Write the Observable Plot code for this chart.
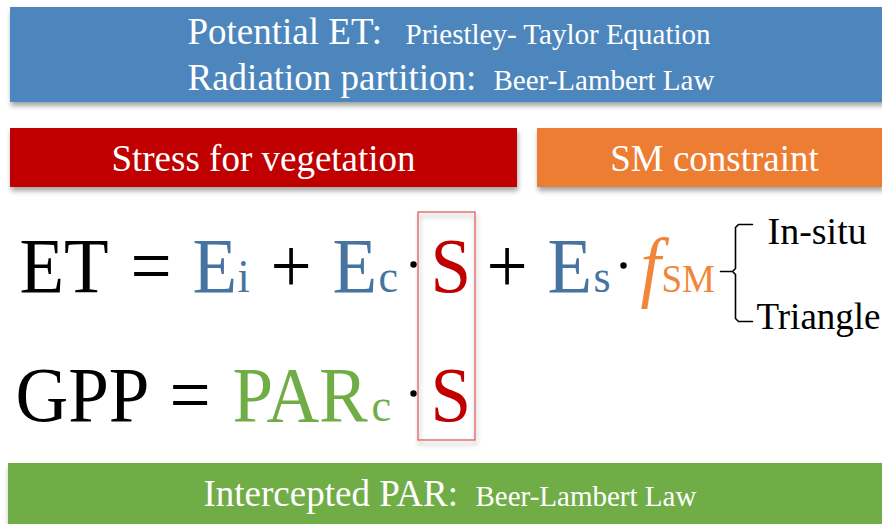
<!DOCTYPE html>
<html>
<head>
<meta charset="utf-8">
<script src="https://cdn.jsdelivr.net/npm/d3@7"></script>
<script src="https://cdn.jsdelivr.net/npm/@observablehq/plot@0.6"></script>
<style>
  html, body { margin: 0; padding: 0; background: #ffffff; }
  #chart { width: 882px; height: 524px; overflow: hidden; }
</style>
</head>
<body>
<div id="chart"></div>
<script>
// ---------- content (labels) ----------
const headerLabels  = ["Potential ET:", "Radiation partition:"];
const headerMethods = ["Priestley- Taylor Equation", "Beer-Lambert Law"];
const constraintLabels = ["Stress for vegetation", "SM constraint"];
const etTerms  = ["ET", "=", "E", "i", "+", "E", "c", "S", "+", "E", "s", "f", "SM"];
const etRoles  = ["black", "black", "blue", "blue", "black", "blue", "blue", "red", "black", "blue", "blue", "orange", "orange"];
const etKinds  = ["main", "main", "main", "sub", "main", "main", "sub", "main", "main", "main", "sub", "italic", "subSM"];
const smSources = ["In-situ", "Triangle"];
const gppTerms = ["GPP", "=", "PAR", "c", "S"];
const gppRoles = ["black", "black", "green", "green", "red"];
const gppKinds = ["main", "main", "main", "sub", "main"];
const footerLabel  = "Intercepted PAR:";
const footerMethod = "Beer-Lambert Law";

// ---------- layout & style (diagram geometry) ----------
const W = 882, H = 524;
const palette = {black: "#000000", blue: "#46739F", red: "#C00000", orange: "#F0863A", green: "#70AD47"};
const sizes = {main: 73, sub: 44, italic: 73, subSM: 37};
const stretchY = 1.07;
const serif = "Liberation Serif";

const boxes = [
  {x1: 10,  x2: 884, y1: 7,   y2: 102, fill: "#4E86BC"},
  {x1: 10,  x2: 517, y1: 128, y2: 187, fill: "#C00000"},
  {x1: 537, x2: 884, y1: 128, y2: 187, fill: "#ED7D31"},
  {x1: 8,   x2: 884, y1: 463, y2: 530, fill: "#70AD47"}
];
const sBox = [{x1: 418, x2: 475, y1: 212, y2: 440}];

const boxTextsStart = [
  {text: headerLabels[0],  x: 187, y: 43,  size: 37},
  {text: headerMethods[0], x: 405, y: 43,  size: 29},
  {text: headerLabels[1],  x: 187, y: 89,  size: 37},
  {text: headerMethods[1], x: 493, y: 89,  size: 29},
  {text: footerLabel,  x: 203, y: 505, size: 37},
  {text: footerMethod, x: 475, y: 505, size: 29}
];
const boxTextsMiddle = [
  {text: constraintLabels[0], x: 263, y: 170, size: 37},
  {text: constraintLabels[1], x: 714, y: 170, size: 37}
];

const etX  = [19, 130, 192, 237, 270, 332, 378, 430, 486, 547, 593, 640, 661];
const gppX = [15, 169, 232, 371, 430];
const etBase = 291, gppBase = 420;

const eqTokens = [
  ...etTerms.map((t, i) => ({text: t, x: etX[i], y: etBase, color: palette[etRoles[i]], size: sizes[etKinds[i]], italic: etKinds[i] === "italic"})),
  ...gppTerms.map((t, i) => ({text: t, x: gppX[i], y: gppBase, color: palette[gppRoles[i]], size: sizes[gppKinds[i]], italic: false}))
];
const sideLabels = [
  {text: smSources[0], x: 767, y: 243, size: 38},
  {text: smSources[1], x: 756, y: 328, size: 37}
];
const multDots = [{x: 413, y: 264}, {x: 623, y: 265}, {x: 413, y: 393}];

const brace = [
  {x: 752, y: 224}, {x: 738, y: 224}, {x: 735, y: 227}, {x: 735, y: 268},
  {x: 732, y: 271}, {x: 720, y: 271}, {x: 732, y: 271}, {x: 735, y: 274},
  {x: 735, y: 318}, {x: 738, y: 321}, {x: 752, y: 321}
];

const textOpts = {x: "x", y: "y", text: "text", fontSize: d => d.size, textAnchor: "start", lineAnchor: "bottom", fontFamily: serif};

const plot = Plot.plot({
  width: W, height: H,
  margin: 0,
  x: {domain: [0, W], range: [0, W], axis: null},
  y: {domain: [0, H], range: [0, H], axis: null},
  style: {background: "#ffffff", fontFamily: serif, overflow: "hidden"},
  marks: [
    Plot.rect(boxes, {x1: "x1", x2: "x2", y1: "y1", y2: "y2", fill: d => d.fill}),
    Plot.text(boxTextsStart, {...textOpts, fill: "#ffffff"}),
    Plot.text(boxTextsMiddle, {...textOpts, fill: "#ffffff", textAnchor: "middle"}),
    Plot.rect(sBox, {x1: "x1", x2: "x2", y1: "y1", y2: "y2", fill: "none", stroke: "#E06060", strokeWidth: 1.3}),
    Plot.text(eqTokens.filter(d => !d.italic), {...textOpts, fill: d => d.color}),
    Plot.text(eqTokens.filter(d => d.italic), {...textOpts, fill: d => d.color, fontStyle: "italic"}),
    Plot.text(sideLabels, {...textOpts, fill: "#000"}),
    Plot.dot(multDots, {x: "x", y: "y", r: 3.2, fill: "#000", stroke: null}),
    Plot.line(brace, {x: "x", y: "y", stroke: "#000", strokeWidth: 1.6, curve: "linear"})
  ]
});

const svg = d3.select(plot);
// the equation glyphs in the reference are slightly taller than wide
const textGroups = svg.selectAll('g[aria-label="text"]').nodes();
[textGroups[2], textGroups[3]].forEach(g => {
  d3.select(g).selectAll("text").each(function () {
    const t = this.getAttribute("transform");
    if (t && t.includes("translate")) {
      this.setAttribute("transform", `${t} scale(1,${stretchY})`);
    } else {
      const x = this.getAttribute("x") || 0, y = this.getAttribute("y") || 0;
      this.removeAttribute("x"); this.removeAttribute("y");
      this.setAttribute("transform", `translate(${x},${y}) scale(1,${stretchY})`);
    }
  });
});

// soft drop shadow under the coloured boxes
const defs = svg.insert("defs", ":first-child");
const f = defs.append("filter").attr("id", "boxshadow").attr("x", "-5%").attr("y", "-20%").attr("width", "115%").attr("height", "160%");
f.append("feDropShadow").attr("dx", 1).attr("dy", 4).attr("stdDeviation", 2.5).attr("flood-color", "#000").attr("flood-opacity", 0.35);
svg.selectAll('g[aria-label="rect"]').attr("filter", "url(#boxshadow)");

document.getElementById("chart").append(plot);
</script>
</body>
</html>
